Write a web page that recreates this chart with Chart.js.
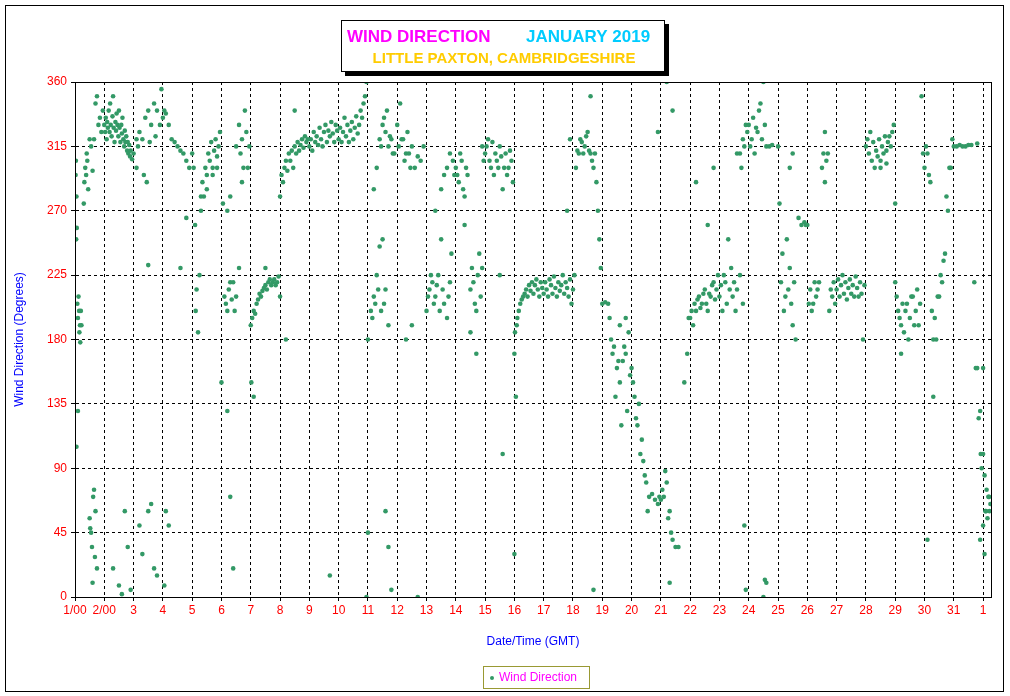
<!DOCTYPE html>
<html>
<head>
<meta charset="utf-8">
<script src="https://cdn.jsdelivr.net/npm/chart.js@4"></script>
<style>
  html, body { margin: 0; padding: 0; background: #fff; }
  #wrap { width: 1010px; height: 696px; position: relative; }
</style>
</head>
<body>
<div id="wrap"><canvas id="c" width="1010" height="696"></canvas></div>
<script>
// x = days since 1 Jan 00:00 (GMT), y = wind direction in degrees
const windPoints = [
  // 1 Jan
  [0.02,295],[0.03,305],[0.04,250],[0.05,280],[0.06,258],[0.05,105],[0.1,130],[0.08,205],[0.1,195],[0.12,210],[0.14,200],[0.15,185],[0.17,190],[0.18,178],[0.2,200],[0.22,190],
  [0.3,275],[0.32,290],[0.35,300],[0.38,295],[0.4,310],[0.42,305],[0.45,285],[0.5,55],[0.52,48],[0.55,45],[0.58,35],[0.6,10],[0.62,70],[0.65,75],[0.68,28],[0.7,60],[0.75,20],
  [0.5,320],[0.55,315],[0.6,298],[0.65,320],[0.7,345],[0.75,350],[0.8,330],[0.85,335],[0.9,325],[0.95,340],
  // 2 Jan
  [1.0,330],[1.03,325],[1.05,335],[1.08,320],[1.1,332],[1.12,328],[1.15,340],[1.18,325],[1.2,345],[1.22,330],[1.25,322],[1.28,336],[1.3,350],[1.32,328],[1.35,318],[1.38,332],
  [1.4,326],[1.42,338],[1.45,330],[1.48,322],[1.5,340],[1.52,328],[1.55,318],[1.58,330],[1.6,324],[1.62,335],[1.65,320],[1.68,315],[1.7,326],[1.72,318],[1.75,322],[1.78,312],
  [1.8,318],[1.82,310],[1.85,316],[1.88,308],[1.9,312],[1.95,306],[1.3,20],[1.5,8],[1.7,60],[1.8,35],[1.9,5],[1.6,2],
  // 3 Jan
  [2.0,310],[2.1,300],[2.15,315],[2.2,325],[2.3,320],[2.35,295],[2.4,335],[2.45,290],[2.5,340],[2.55,318],[2.6,330],[2.7,345],[2.75,322],[2.8,340],[2.9,330],[2.95,355],[2.1,320],
  [2.5,232],[2.2,50],[2.3,30],[2.5,60],[2.6,65],[2.7,20],[2.8,15],
  // 4 Jan
  [3.0,335],[3.05,340],[3.1,338],[3.2,330],[3.3,320],[3.4,318],[3.5,315],[3.6,312],[3.7,310],[3.8,305],[3.9,300],[3.6,230],[3.8,265],[3.1,60],[3.2,50],[3.05,8],
  // 5 Jan
  [4.0,310],[4.05,300],[4.1,260],[4.12,200],[4.15,215],[4.2,185],[4.25,225],[4.3,270],[4.35,290],[4.4,280],[4.45,300],[4.5,295],[4.55,310],[4.6,305],[4.65,318],[4.7,300],
  [4.75,312],[4.8,320],[4.85,308],[4.9,315],[4.95,325],[4.3,280],[4.5,285],[4.7,295],[4.85,300],
  // 6 Jan
  [5.05,275],[5.1,210],[5.15,205],[5.2,200],[5.25,215],[5.3,220],[5.35,208],[5.4,220],[5.45,200],[5.2,270],[5.3,280],[5.0,150],[5.2,130],[5.3,70],[5.4,20],[5.5,210],
  [5.5,315],[5.6,330],[5.65,310],[5.7,320],[5.75,300],[5.8,340],[5.85,325],[5.9,300],[5.7,290],[5.6,230],[5.95,315],
  // 7 Jan
  [6.0,190],[6.05,195],[6.1,200],[6.15,198],[6.2,205],[6.25,208],[6.3,212],[6.35,210],[6.4,214],[6.45,216],[6.5,218],[6.55,215],[6.6,220],[6.65,222],[6.7,218],[6.75,220],
  [6.8,222],[6.85,218],[6.9,220],[6.95,224],[6.02,150],[6.1,140],[6.5,230],
  // 8 Jan
  [7.0,280],[7.05,295],[7.1,290],[7.15,300],[7.2,305],[7.25,298],[7.3,310],[7.35,305],[7.4,312],[7.45,300],[7.5,315],[7.55,310],[7.6,318],[7.65,312],[7.7,316],[7.75,320],
  [7.8,314],[7.85,322],[7.9,318],[7.95,320],[7.0,210],[7.2,180],[7.5,340],
  // 9 Jan
  [8.0,315],[8.05,320],[8.1,312],[8.15,325],[8.2,318],[8.25,322],[8.3,316],[8.35,328],[8.4,320],[8.45,315],[8.5,325],[8.55,330],[8.6,318],[8.65,326],[8.7,322],[8.75,332],
  [8.8,324],[8.85,318],[8.9,330],[8.95,326],[8.7,15],
  // 10 Jan
  [9.0,320],[9.05,328],[9.1,318],[9.15,325],[9.2,335],[9.25,322],[9.3,330],[9.35,318],[9.4,326],[9.45,332],[9.5,320],[9.55,328],[9.6,336],[9.65,324],[9.7,330],[9.75,340],
  [9.8,335],[9.85,345],[9.9,350],[9.95,360],[9.95,0],[10.0,45],
  // 11 Jan
  [10.0,180],[10.1,200],[10.15,195],[10.2,210],[10.25,205],[10.3,225],[10.35,215],[10.4,245],[10.45,200],[10.5,250],[10.55,205],[10.6,215],[10.7,190],[10.2,285],[10.3,300],
  [10.4,320],[10.45,315],[10.5,330],[10.55,335],[10.6,325],[10.65,340],[10.7,315],[10.75,322],[10.8,320],[10.85,310],[10.9,310],[10.6,60],[10.7,35],[10.8,5],
  // 12 Jan
  [11.0,330],[11.05,315],[11.1,345],[11.15,320],[11.2,320],[11.25,305],[11.3,310],[11.35,325],[11.4,310],[11.45,300],[11.5,315],[11.6,300],[11.7,308],[11.8,305],[11.9,315],
  [11.3,180],[11.5,190],[11.7,0],
  // 13 Jan
  [12.0,200],[12.05,210],[12.1,215],[12.15,225],[12.2,220],[12.25,205],[12.3,210],[12.35,218],[12.4,225],[12.45,200],[12.5,250],[12.55,215],[12.6,205],[12.7,195],[12.75,210],
  [12.8,220],[12.85,240],[12.3,270],[12.5,285],[12.6,295],[12.7,300],[12.8,310],[12.9,305],[12.95,295],
  // 14 Jan
  [13.0,300],[13.05,295],[13.1,290],[13.15,310],[13.2,305],[13.25,285],[13.3,280],[13.35,300],[13.4,295],[13.3,260],[13.5,215],[13.55,230],[13.6,220],[13.65,205],[13.7,200],
  [13.75,225],[13.8,240],[13.85,210],[13.9,230],[13.5,185],[13.7,170],[13.9,315],[13.95,305],
  // 15 Jan
  [14.0,310],[14.05,315],[14.1,320],[14.15,305],[14.2,300],[14.25,318],[14.3,295],[14.35,310],[14.4,305],[14.45,300],[14.5,315],[14.55,308],[14.6,285],[14.65,300],[14.7,310],
  [14.75,295],[14.8,300],[14.85,312],[14.9,305],[14.95,290],[14.5,225],[14.6,100],
  // 16 Jan
  [15.0,170],[15.02,185],[15.05,140],[15.08,190],[15.1,195],[15.15,200],[15.2,205],[15.25,208],[15.3,210],[15.35,212],[15.4,215],[15.45,210],[15.5,218],[15.55,214],
  [15.6,220],[15.65,212],[15.7,218],[15.75,222],[15.8,215],[15.85,210],[15.9,220],[15.95,216],[15.0,30],
  // 17 Jan
  [16.0,212],[16.05,220],[16.1,215],[16.15,210],[16.2,222],[16.25,218],[16.3,212],[16.35,224],[16.4,216],[16.45,210],[16.5,220],[16.55,214],[16.6,218],[16.65,225],[16.7,212],
  [16.75,220],[16.8,216],[16.85,210],[16.9,222],[16.95,205],[16.8,270],[16.9,320],
  // 18 Jan
  [17.0,215],[17.05,225],[17.1,300],[17.15,312],[17.2,310],[17.25,320],[17.3,318],[17.35,310],[17.4,315],[17.45,322],[17.5,325],[17.55,312],[17.6,310],[17.65,305],
  [17.7,300],[17.75,310],[17.8,290],[17.85,270],[17.9,250],[17.95,230],[17.6,350],[17.7,5],
  // 19 Jan
  [18.0,205],[18.1,206],[18.2,205],[18.25,195],[18.3,180],[18.35,170],[18.4,175],[18.45,140],[18.5,160],[18.55,165],[18.6,150],[18.65,120],[18.7,165],[18.75,175],
  [18.8,170],[18.85,130],[18.9,185],[18.95,155],[18.6,190],[18.8,195],
  // 20 Jan
  [19.0,160],[19.05,150],[19.1,140],[19.15,125],[19.2,120],[19.25,135],[19.3,100],[19.35,110],[19.4,95],[19.45,85],[19.5,80],[19.55,60],[19.6,70],[19.7,72],[19.8,68],
  [19.9,65],[19.95,70],[19.9,325],
  // 21 Jan
  [20.0,68],[20.05,75],[20.1,70],[20.15,88],[20.2,80],[20.25,55],[20.3,60],[20.3,10],[20.35,45],[20.4,40],[20.5,35],[20.6,35],[20.2,360],[20.4,340],[20.8,150],[20.9,170],
  [20.95,195],
  // 22 Jan
  [21.0,195],[21.05,200],[21.1,190],[21.15,205],[21.2,200],[21.25,208],[21.3,210],[21.35,202],[21.4,205],[21.45,212],[21.5,215],[21.55,205],[21.6,200],[21.65,212],
  [21.7,210],[21.75,218],[21.8,220],[21.85,208],[21.9,215],[21.95,225],[21.2,290],[21.6,260],[21.8,300],
  // 23 Jan
  [22.0,210],[22.05,218],[22.1,200],[22.15,225],[22.2,220],[22.25,205],[22.3,250],[22.35,215],[22.4,230],[22.45,210],[22.5,220],[22.55,200],[22.6,215],[22.7,225],
  [22.8,205],[22.6,310],[22.7,310],[22.75,300],[22.8,320],[22.85,315],[22.9,330],[22.95,325],[22.85,50],[22.9,5],
  // 24 Jan
  [23.0,330],[23.05,315],[23.1,320],[23.15,335],[23.2,310],[23.25,328],[23.3,325],[23.35,340],[23.4,345],[23.45,320],[23.5,360],[23.55,330],[23.6,315],[23.7,315],
  [23.8,316],[23.5,0],[23.55,12],[23.6,10],
  // 25 Jan
  [24.0,315],[24.05,275],[24.1,220],[24.15,240],[24.2,200],[24.25,210],[24.3,250],[24.35,215],[24.4,230],[24.45,205],[24.5,190],[24.55,220],[24.6,180],[24.4,300],
  [24.5,310],[24.7,265],[24.8,260],[24.9,262],[24.95,260],
  // 26 Jan
  [25.0,260],[25.05,205],[25.1,215],[25.15,200],[25.2,205],[25.25,220],[25.3,210],[25.35,215],[25.4,220],[25.5,300],[25.55,310],[25.6,290],[25.65,305],[25.7,310],
  [25.6,325],[25.75,200],[25.8,215],[25.85,210],[25.9,220],[25.95,205],
  // 27 Jan
  [26.0,215],[26.05,222],[26.1,210],[26.15,218],[26.2,225],[26.25,212],[26.3,220],[26.35,208],[26.4,216],[26.45,222],[26.5,212],[26.55,218],[26.6,210],[26.65,224],
  [26.7,216],[26.75,210],[26.8,220],[26.85,212],[26.9,180],[26.95,218],
  // 28 Jan
  [27.0,315],[27.05,320],[27.1,310],[27.15,325],[27.2,305],[27.25,318],[27.3,300],[27.35,312],[27.4,308],[27.45,320],[27.5,305],[27.55,315],[27.6,310],[27.65,322],
  [27.7,312],[27.75,318],[27.8,322],[27.85,315],[27.9,325],[27.95,330],[27.5,300],[27.7,303],[28.0,275],
  // 29 Jan
  [28.0,220],[28.05,210],[28.1,200],[28.15,195],[28.2,190],[28.25,205],[28.3,185],[28.35,200],[28.4,205],[28.45,180],[28.5,195],[28.55,210],[28.6,210],[28.65,190],
  [28.7,200],[28.75,215],[28.8,190],[28.85,205],[28.2,170],[28.9,350],[28.95,310],
  // 30 Jan
  [29.0,300],[29.05,315],[29.1,310],[29.15,295],[29.2,290],[29.1,40],[29.25,200],[29.3,180],[29.3,140],[29.35,195],[29.4,180],[29.45,210],[29.5,210],[29.55,225],
  [29.6,220],[29.65,235],[29.7,240],[29.75,280],[29.8,270],[29.85,300],[29.9,300],[29.95,320],
  // 31 Jan
  [30.0,315],[30.1,315],[30.2,316],[30.3,315],[30.4,315],[30.5,316],[30.6,316],[30.7,220],[30.8,317],[30.75,160],[30.8,160],[30.85,125],[30.9,130],[30.92,100],
  [30.95,90],[30.9,40],[31.0,100],[31.0,50],[31.05,85],[31.08,60],[31.1,60],[31.12,75],[31.15,55],[31.18,70],[31.2,70],[31.22,60],[31.25,65],[31.05,30],[31.0,160]
];

const xTickValues = [0,1,2,3,4,5,6,7,8,9,10,11,12,13,14,15,16,17,18,19,20,21,22,23,24,25,26,27,28,29,30,31];
const xTickLabels = ['1/00','2/00','3','4','5','6','7','8','9','10','11','12','13','14','15','16','17','18','19','20','21','22','23','24','25','26','27','28','29','30','31','1'];
const yTickValues = [0,45,90,135,180,225,270,315,360];

const POINT_COLOR = '#339966';

// Title box, outer frame and legend drawn straight onto the canvas
const decorPlugin = {
  id: 'decor',
  afterDraw(chart) {
    const ctx = chart.ctx;
    ctx.save();
    // outer frame
    ctx.strokeStyle = '#000';
    ctx.lineWidth = 1;
    ctx.strokeRect(5.5, 5.5, 998, 686);
    // title box with shadow
    ctx.fillStyle = '#000';
    ctx.fillRect(345, 24, 324, 52);
    ctx.fillStyle = '#fff';
    ctx.fillRect(341, 20, 324, 52);
    ctx.strokeRect(341.5, 20.5, 323, 51);
    ctx.font = 'bold 17px Arial, "Liberation Sans"';
    ctx.textBaseline = 'middle';
    ctx.textAlign = 'left';
    ctx.fillStyle = '#ff00ff';
    ctx.fillText('WIND DIRECTION', 347, 37);
    ctx.fillStyle = '#00ccff';
    ctx.fillText('JANUARY 2019', 526, 37);
    ctx.font = 'bold 15px Arial, "Liberation Sans"';
    ctx.textAlign = 'center';
    ctx.fillStyle = '#ffcc00';
    ctx.fillText('LITTLE PAXTON, CAMBRIDGESHIRE', 504, 59);
    // legend
    ctx.strokeStyle = '#999933';
    ctx.strokeRect(483.5, 666.5, 106, 22);
    ctx.fillStyle = POINT_COLOR;
    ctx.beginPath();
    ctx.arc(492, 678, 2, 0, Math.PI * 2);
    ctx.fill();
    ctx.font = '12px Arial, "Liberation Sans"';
    ctx.textAlign = 'left';
    ctx.fillStyle = '#ff00ff';
    ctx.fillText('Wind Direction', 499, 678);
    ctx.restore();
  }
};

new Chart(document.getElementById('c'), {
  type: 'scatter',
  data: {
    datasets: [{
      label: 'Wind Direction',
      data: windPoints.map(p => ({ x: p[0], y: p[1] })),
      backgroundColor: POINT_COLOR,
      borderColor: POINT_COLOR,
      pointRadius: 2.3,
      pointBorderWidth: 0
    }]
  },
  options: {
    responsive: false,
    animation: false,
    layout: { padding: { top: 82, right: 19, bottom: 43, left: 8 } },
    plugins: { legend: { display: false }, tooltip: { enabled: false } },
    scales: {
      x: {
        type: 'linear',
        min: 0,
        max: 31.27,
        afterBuildTicks: (scale) => { scale.ticks = xTickValues.map(v => ({ value: v })); },
        afterFit: (scale) => { scale.height = 56; },
        ticks: {
          color: '#ff0000',
          font: { family: 'Arial, "Liberation Sans"', size: 12 },
          maxRotation: 0,
          autoSkip: false,
          padding: 2,
          callback: (v) => xTickLabels[xTickValues.indexOf(v)]
        },
        grid: { color: '#000', tickLength: 4, tickColor: '#000' },
        border: { color: '#000', dash: [3, 3], display: true },
        title: { display: true, text: 'Date/Time (GMT)', color: '#0000ff', font: { family: 'Arial, "Liberation Sans"', size: 12 }, padding: { top: 8 } }
      },
      y: {
        min: 0,
        max: 360,
        afterBuildTicks: (scale) => { scale.ticks = yTickValues.map(v => ({ value: v })); },
        afterFit: (scale) => { scale.width = 67; },
        ticks: { color: '#ff0000', font: { family: 'Arial, "Liberation Sans"', size: 12 }, padding: 4 },
        grid: { color: '#000', tickLength: 4, tickColor: '#000' },
        border: { color: '#000', dash: [3, 3], display: true },
        title: { display: true, text: 'Wind Direction (Degrees)', color: '#0000ff', font: { family: 'Arial, "Liberation Sans"', size: 12 } }
      }
    }
  },
  plugins: [decorPlugin, {
    id: 'plotFrame',
    afterDatasetsDraw(chart) {
      const a = chart.chartArea, ctx = chart.ctx;
      ctx.save();
      ctx.strokeStyle = '#000';
      ctx.lineWidth = 1;
      ctx.strokeRect(Math.round(a.left) + 0.5, Math.round(a.top) + 0.5, Math.round(a.width), Math.round(a.height));
      ctx.restore();
    }
  }, {
    id: 'dashGrid',
    beforeDraw(chart) {
      chart.scales.x.options.grid.borderDash = [3, 3];
    }
  }]
});
</script>
</body>
</html>
